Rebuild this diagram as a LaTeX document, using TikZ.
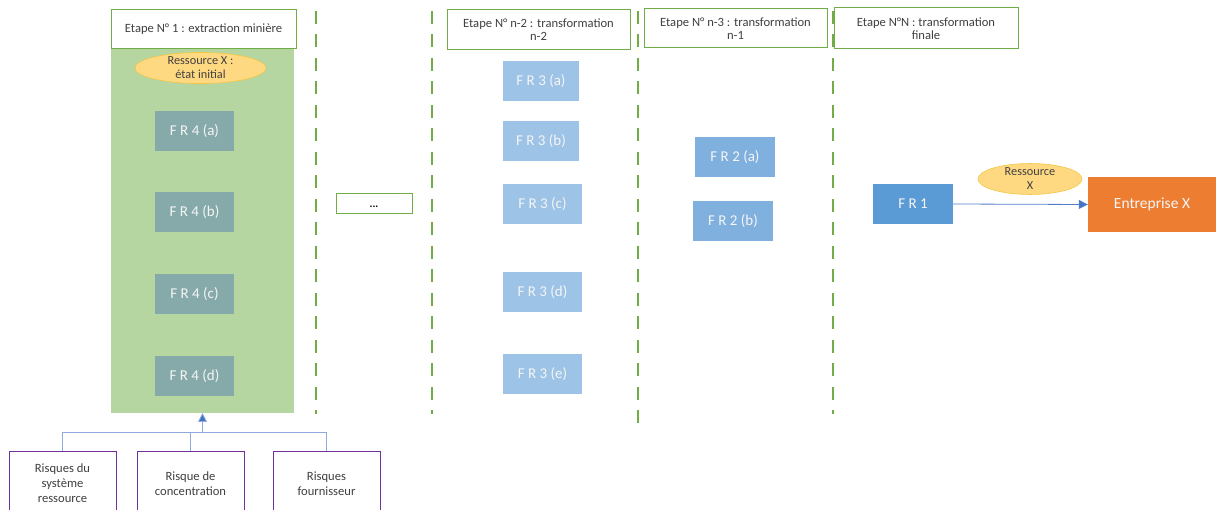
\documentclass[tikz,border=0pt]{standalone}
\usepackage{fontspec}
\setmainfont{Carlito}
\usetikzlibrary{arrows.meta,shapes.geometric}
\definecolor{stagegreen}{HTML}{70AD47}
\definecolor{stagefill}{HTML}{B5D5A1}
\definecolor{frfour}{HTML}{86AAAA}
\definecolor{frthree}{HTML}{9DC3E6}
\definecolor{frtwo}{HTML}{7FB0DE}
\definecolor{frone}{HTML}{5B9BD5}
\definecolor{firm}{HTML}{ED7D31}
\definecolor{resfill}{HTML}{FFD982}
\definecolor{resline}{HTML}{F2C744}
\definecolor{riskline}{HTML}{7030A0}
\definecolor{linkline}{HTML}{8FAADC}
\definecolor{linktip}{HTML}{4472C4}
\definecolor{txt}{HTML}{404040}
\tikzset{
  header/.style={draw=stagegreen, line width=1pt, fill=white, text=txt, align=center,
    font=\fontsize{12.6}{13}\selectfont, inner sep=0pt},
  frbox/.style={minimum width=79pt, minimum height=40pt, inner sep=0pt,
    text=white!92!gray, font=\fontsize{15}{16}\selectfont},
  resell/.style={ellipse, fill=resfill, draw=resline, line width=0.6pt, text=txt,
    inner sep=0pt, align=center, font=\fontsize{12.3}{14}\selectfont},
  stageline/.style={draw=stagegreen, line width=2.6pt, dash pattern=on 13pt off 10.5pt},
  riskbox/.style={draw=riskline, line width=1pt, fill=white, text=txt, align=center,
    font=\fontsize{12.6}{15}\selectfont, inner sep=0pt},
  link/.style={draw=linkline, line width=0.8pt},
  tip/.style={-{Triangle[length=9pt, width=9pt, fill=linktip]}},
}
\begin{document}
\begin{tikzpicture}[x=1pt, y=-1pt]
\useasboundingbox (0,0) rectangle (1216,510);
% stage separators
\draw[stageline] (316,11) -- (316,414);
\draw[stageline] (432,11) -- (432,414);
\draw[stageline] (638,11) -- (638,425);
\draw[stageline] (833,11) -- (833,414);
% stage 1: extraction
\fill[stagefill] (111,49) rectangle (294,413);
\node[coordinate] (stageone) at (202.5,413) {};
\node[header, minimum width=185pt, minimum height=39pt] (h1) at (203.5,29.5) {Etape N° 1 : extraction minière};
\node[resell, minimum width=131pt, minimum height=26pt] (r0) at (200.5,68) {Ressource X :\\état initial};
\node[frbox, fill=frfour] (f4a) at (194.5,131) {F R 4 (a)};
\node[frbox, fill=frfour] (f4b) at (194.5,212.5) {F R 4 (b)};
\node[frbox, fill=frfour] (f4c) at (194.5,294) {F R 4 (c)};
\node[frbox, fill=frfour] (f4d) at (194.5,376.5) {F R 4 (d)};
% intermediate stages
\node[draw=stagegreen, line width=1pt, minimum width=76pt, minimum height=20pt, inner sep=0pt,
  text=black, font=\bfseries\fontsize{11}{12}\selectfont, text depth=0pt] (dots) at (374,204) {\raisebox{-4pt}{...}};
\node[header, minimum width=183pt, minimum height=40pt] (h2) at (538.5,29.5) {Etape N° n-2 : transformation\\n-2};
\node[frbox, fill=frthree, minimum width=76pt] (f3a) at (541,81) {F R 3 (a)};
\node[frbox, fill=frthree, minimum width=76pt] (f3b) at (541,141) {F R 3 (b)};
\node[frbox, fill=frthree] (f3c) at (542.5,204) {F R 3 (c)};
\node[frbox, fill=frthree] (f3d) at (542.5,292) {F R 3 (d)};
\node[frbox, fill=frthree] (f3e) at (542.5,374) {F R 3 (e)};
\node[header, minimum width=183pt, minimum height=39pt] (h3) at (735.5,28.5) {Etape N° n-3 : transformation\\n-1};
\node[frbox, fill=frtwo, minimum width=80pt] (f2a) at (735,157) {F R 2 (a)};
\node[frbox, fill=frtwo, minimum width=80pt] (f2b) at (733,221) {F R 2 (b)};
% final stage
\node[header, minimum width=184pt, minimum height=41pt] (h4) at (926,28.5) {Etape N°N : transformation\\finale};
\node[frbox, fill=frone, minimum width=80pt] (f1) at (913,204) {F R 1};
\node[fill=firm, minimum width=128pt, minimum height=55pt, inner sep=0pt, text=white!94!gray,
  font=\fontsize{15.5}{17}\selectfont] (firm) at (1152,204.5) {Entreprise X};
\node[resell, minimum width=104pt, minimum height=26pt] (r1) at (1030,179) {Ressource\\X};
\draw[link, draw=linktip!80!linkline, tip] (f1.east) -- (firm.west);
% risk sources feeding stage 1
\node[riskbox, minimum width=107pt, minimum height=64pt, anchor=north] (k1) at (62.5,451) {Risques du\\système\\ressource};
\node[riskbox, minimum width=107pt, minimum height=64pt, anchor=north] (k2) at (190.5,451) {Risque de\\concentration};
\node[riskbox, minimum width=107pt, minimum height=64pt, anchor=north] (k3) at (326.5,451) {Risques\\fournisseur};
\coordinate (bus) at (202.5,432);
\draw[link] (k1.north) |- (bus);
\draw[link] (k3.north) |- (bus);
\draw[link] (k2.north) -- (k2.north |- bus);
\draw[link, tip] (bus) -- (stageone);
\end{tikzpicture}
\end{document}
